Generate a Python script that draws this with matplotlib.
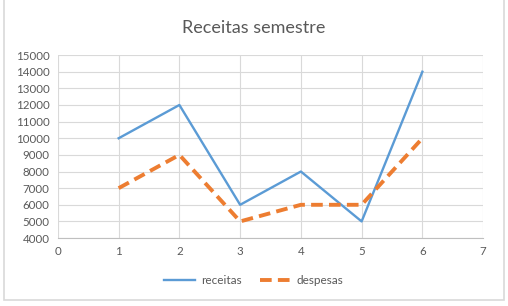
import matplotlib
matplotlib.use("Agg")
import matplotlib.pyplot as plt
from matplotlib.patches import Rectangle

x = [1, 2, 3, 4, 5, 6]
receitas = [10000, 12000, 6000, 8000, 5000, 14000]
despesas = [7000, 9000, 5000, 6000, 6000, 10000]
title = "Receitas semestre"

plt.rcParams['font.family'] = ['Lato', 'DejaVu Sans']

fig = plt.figure(figsize=(5.08, 3.06), dpi=100)
fig.patch.set_facecolor('white')
fig.patches.append(Rectangle((0.008, 0.018), 0.984, 0.985, transform=fig.transFigure,
                             fill=False, edgecolor='#d9d9d9', linewidth=1.2))
ax = fig.add_axes([0.114, 0.222, 0.837, 0.598])

ax.plot(x, receitas, color='#5B9BD5', linewidth=1.7, label='receitas')
ax.plot(x, despesas, color='#ED7D31', linewidth=2.8, linestyle=(0, (3, 1.6)), label='despesas')

ax.set_xlim(0, 7)
ax.set_ylim(4000, 15000)
ax.set_xticks(range(0, 8))
ax.set_yticks(range(4000, 15001, 1000))
ax.grid(True, color='#d9d9d9', linewidth=0.8)
ax.set_axisbelow(True)
for s in ['top', 'right', 'left']:
    ax.spines[s].set_visible(False)
ax.spines['bottom'].set_color('#bfbfbf')
ax.tick_params(length=0, labelsize=8.3, colors='#595959', pad=6)

fig.text(0.5, 0.91, title, ha='center', va='center', fontsize=13, color='#595959')
fig.legend(loc='center', bbox_to_anchor=(0.5, 0.082), ncol=2, frameon=False,
           fontsize=8.5, labelcolor='#595959', handlelength=2.6, handletextpad=0.5,
           columnspacing=1.6)

fig.savefig('out.png', dpi=100)
